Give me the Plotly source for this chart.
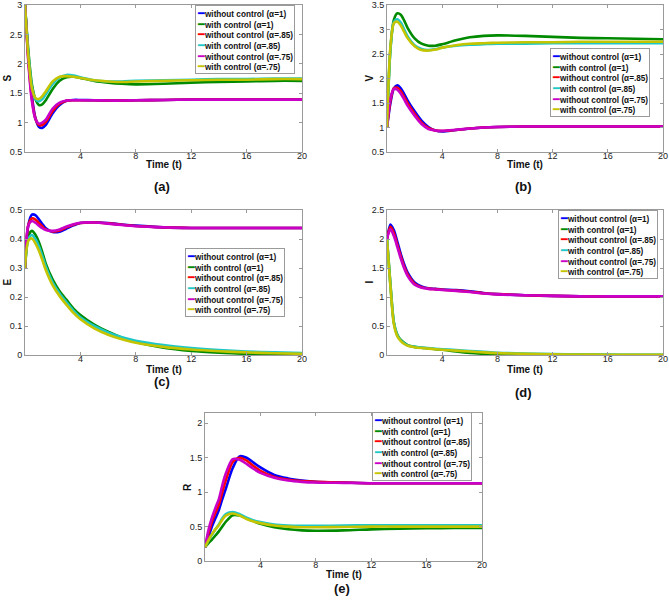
import plotly.graph_objects as go

W, H = 669, 606

t = [0, 0.25, 0.5, 0.75, 1, 1.25, 1.5, 2, 2.5, 3, 3.5, 4, 5, 6, 7, 8, 10, 12, 14, 16, 18, 20]

series_names = ["without control (α=1)", "with control (α=1)", "without control (α=.85)",
                "with control (α=.85)", "without control (α=.75)", "with control (α=.75)"]
colors = ["#0000FF", "#008A00", "#FF0000", "#1FC8C8", "#C800C8", "#C4C400"]

# S(t)
S_wo_1 = [3, 2.1, 1.45, 1.08, 0.93, 0.91, 0.96, 1.16, 1.30, 1.37, 1.385, 1.385, 1.38, 1.375, 1.375, 1.38, 1.385, 1.39, 1.39, 1.39, 1.39, 1.39]
S_w_1 = [3, 2.2, 1.65, 1.40, 1.30, 1.31, 1.38, 1.57, 1.71, 1.77, 1.78, 1.76, 1.71, 1.68, 1.66, 1.65, 1.66, 1.68, 1.69, 1.70, 1.71, 1.71]
S_wo_85 = [3, 2.05, 1.40, 1.07, 0.96, 0.96, 1.01, 1.20, 1.32, 1.37, 1.38, 1.38, 1.38, 1.375, 1.375, 1.38, 1.385, 1.39, 1.39, 1.39, 1.39, 1.39]
S_w_85 = [3, 2.15, 1.60, 1.40, 1.36, 1.40, 1.48, 1.66, 1.77, 1.81, 1.80, 1.77, 1.72, 1.70, 1.70, 1.71, 1.72, 1.73, 1.74, 1.74, 1.75, 1.75]
S_wo_75 = [3, 2.0, 1.36, 1.06, 0.98, 1.00, 1.05, 1.24, 1.34, 1.375, 1.38, 1.38, 1.38, 1.375, 1.375, 1.38, 1.385, 1.39, 1.39, 1.39, 1.39, 1.39]
S_w_75 = [3, 2.1, 1.58, 1.42, 1.40, 1.45, 1.53, 1.70, 1.78, 1.79, 1.78, 1.76, 1.72, 1.70, 1.69, 1.70, 1.71, 1.72, 1.73, 1.73, 1.74, 1.74]

# V(t)
V_wo_1 = [1, 1.5, 1.8, 1.86, 1.8, 1.68, 1.55, 1.33, 1.14, 1.01, 0.94, 0.92, 0.95, 0.98, 1.0, 1.01, 1.02, 1.02, 1.02, 1.02, 1.02, 1.02]
V_w_1 = [1, 2.6, 3.2, 3.33, 3.3, 3.18, 3.03, 2.82, 2.71, 2.67, 2.67, 2.70, 2.78, 2.84, 2.87, 2.88, 2.87, 2.85, 2.83, 2.82, 2.81, 2.80]
V_wo_85 = [1, 1.55, 1.8, 1.81, 1.74, 1.62, 1.49, 1.28, 1.10, 0.99, 0.94, 0.93, 0.95, 0.98, 1.0, 1.01, 1.02, 1.02, 1.02, 1.02, 1.02, 1.02]
V_w_85 = [1, 2.6, 3.15, 3.21, 3.14, 3.0, 2.86, 2.68, 2.60, 2.58, 2.60, 2.63, 2.67, 2.69, 2.70, 2.71, 2.71, 2.72, 2.72, 2.72, 2.72, 2.72]
V_wo_75 = [1, 1.6, 1.79, 1.77, 1.69, 1.57, 1.44, 1.24, 1.07, 0.97, 0.94, 0.935, 0.955, 0.98, 1.0, 1.01, 1.02, 1.02, 1.02, 1.02, 1.02, 1.02]
V_w_75 = [1, 2.65, 3.13, 3.16, 3.08, 2.95, 2.82, 2.66, 2.58, 2.57, 2.59, 2.63, 2.68, 2.71, 2.72, 2.73, 2.74, 2.74, 2.75, 2.75, 2.75, 2.75]

# E(t)
E_wo_1 = [0.3, 0.45, 0.484, 0.482, 0.468, 0.452, 0.437, 0.424, 0.425, 0.436, 0.447, 0.455, 0.458, 0.455, 0.45, 0.446, 0.44, 0.438, 0.438, 0.438, 0.438, 0.438]
E_w_1 = [0.3, 0.41, 0.428, 0.415, 0.39, 0.355, 0.315, 0.26, 0.22, 0.19, 0.16, 0.138, 0.105, 0.08, 0.06, 0.045, 0.025, 0.014, 0.008, 0.004, 0.003, 0.002]
E_wo_85 = [0.3, 0.45, 0.471, 0.467, 0.455, 0.443, 0.433, 0.426, 0.429, 0.44, 0.449, 0.455, 0.457, 0.454, 0.449, 0.445, 0.44, 0.438, 0.438, 0.438, 0.438, 0.438]
E_w_85 = [0.3, 0.40, 0.414, 0.40, 0.375, 0.342, 0.305, 0.25, 0.212, 0.182, 0.153, 0.13, 0.1, 0.078, 0.061, 0.049, 0.034, 0.024, 0.017, 0.012, 0.009, 0.007]
E_wo_75 = [0.3, 0.448, 0.462, 0.456, 0.446, 0.437, 0.431, 0.428, 0.433, 0.443, 0.451, 0.456, 0.457, 0.453, 0.448, 0.444, 0.44, 0.438, 0.438, 0.438, 0.438, 0.438]
E_w_75 = [0.3, 0.395, 0.402, 0.385, 0.36, 0.328, 0.293, 0.24, 0.203, 0.173, 0.145, 0.123, 0.092, 0.07, 0.054, 0.042, 0.028, 0.019, 0.013, 0.009, 0.006, 0.004]

# I(t)
I_wo_1 = [2, 2.25, 2.15, 1.95, 1.74, 1.56, 1.42, 1.25, 1.18, 1.15, 1.14, 1.13, 1.12, 1.10, 1.07, 1.05, 1.03, 1.02, 1.01, 1.01, 1.01, 1.01]
I_w_1 = [2, 1.22, 0.56, 0.35, 0.26, 0.21, 0.17, 0.14, 0.125, 0.115, 0.10, 0.09, 0.06, 0.035, 0.02, 0.01, 0.005, 0.003, 0.002, 0.001, 0.001, 0.001]
I_wo_85 = [2, 2.21, 2.10, 1.90, 1.70, 1.52, 1.39, 1.23, 1.17, 1.145, 1.135, 1.125, 1.11, 1.09, 1.065, 1.05, 1.03, 1.02, 1.01, 1.01, 1.01, 1.01]
I_w_85 = [2, 1.20, 0.56, 0.34, 0.25, 0.20, 0.165, 0.14, 0.127, 0.118, 0.108, 0.10, 0.085, 0.07, 0.055, 0.04, 0.025, 0.016, 0.01, 0.006, 0.004, 0.003]
I_wo_75 = [2, 2.17, 2.05, 1.86, 1.66, 1.49, 1.36, 1.21, 1.16, 1.14, 1.13, 1.12, 1.105, 1.085, 1.06, 1.045, 1.03, 1.02, 1.01, 1.01, 1.01, 1.01]
I_w_75 = [2, 1.18, 0.53, 0.32, 0.24, 0.19, 0.16, 0.135, 0.12, 0.11, 0.10, 0.09, 0.075, 0.06, 0.045, 0.033, 0.02, 0.012, 0.007, 0.005, 0.003, 0.002]

# R(t)
R_wo_1 = [0.2, 0.35, 0.5, 0.62, 0.74, 0.90, 1.05, 1.35, 1.52, 1.50, 1.43, 1.36, 1.25, 1.20, 1.17, 1.15, 1.14, 1.13, 1.13, 1.13, 1.13, 1.13]
R_w_1 = [0.2, 0.26, 0.31, 0.37, 0.43, 0.50, 0.57, 0.665, 0.66, 0.62, 0.58, 0.54, 0.49, 0.46, 0.445, 0.44, 0.445, 0.46, 0.47, 0.475, 0.48, 0.48]
R_wo_85 = [0.2, 0.40, 0.57, 0.70, 0.82, 1.0, 1.17, 1.44, 1.50, 1.46, 1.38, 1.31, 1.22, 1.18, 1.16, 1.15, 1.14, 1.13, 1.13, 1.13, 1.13, 1.13]
R_w_85 = [0.2, 0.30, 0.38, 0.46, 0.53, 0.62, 0.68, 0.71, 0.68, 0.63, 0.59, 0.565, 0.53, 0.515, 0.51, 0.51, 0.515, 0.52, 0.52, 0.52, 0.52, 0.52]
R_wo_75 = [0.2, 0.45, 0.63, 0.77, 0.90, 1.10, 1.27, 1.48, 1.47, 1.41, 1.34, 1.28, 1.21, 1.17, 1.15, 1.14, 1.135, 1.13, 1.13, 1.13, 1.13, 1.13]
R_w_75 = [0.2, 0.30, 0.39, 0.46, 0.52, 0.60, 0.66, 0.69, 0.66, 0.61, 0.575, 0.55, 0.515, 0.50, 0.49, 0.49, 0.495, 0.50, 0.50, 0.50, 0.50, 0.50]

panels = [
    dict(label="(a)", ylabel="S", data=[S_wo_1, S_w_1, S_wo_85, S_w_85, S_wo_75, S_w_75],
         yrange=[0.5, 3], yticks=[0.5, 1, 1.5, 2, 2.5, 3], yticktext=["0.5", "1", "1.5", "2", "2.5", "3"]),
    dict(label="(b)", ylabel="V", data=[V_wo_1, V_w_1, V_wo_85, V_w_85, V_wo_75, V_w_75],
         yrange=[0.5, 3.5], yticks=[0.5, 1, 1.5, 2, 2.5, 3, 3.5], yticktext=["0.5", "1", "1.5", "2", "2.5", "3", "3.5"]),
    dict(label="(c)", ylabel="E", data=[E_wo_1, E_w_1, E_wo_85, E_w_85, E_wo_75, E_w_75],
         yrange=[0, 0.5], yticks=[0, 0.1, 0.2, 0.3, 0.4, 0.5], yticktext=["0", "0.1", "0.2", "0.3", "0.4", "0.5"]),
    dict(label="(d)", ylabel="I", data=[I_wo_1, I_w_1, I_wo_85, I_w_85, I_wo_75, I_w_75],
         yrange=[0, 2.5], yticks=[0, 0.5, 1, 1.5, 2, 2.5], yticktext=["0", "0.5", "1", "1.5", "2", "2.5"]),
    dict(label="(e)", ylabel="R", data=[R_wo_1, R_w_1, R_wo_85, R_w_85, R_wo_75, R_w_75],
         yrange=[0, 2.15], yticks=[0, 0.5, 1, 1.5, 2], yticktext=["0", "0.5", "1", "1.5", "2"]),
]

xticks = [4, 8, 12, 16, 20]
xticktext = ["4", "8", "12", "16", "20"]

# layout geometry in pixels: (left, right, top, bottom) of each plot box
boxes = [(25, 302, 5, 152), (387, 663, 5, 152), (25, 302, 210, 355), (387, 663, 210, 355), (205, 482, 413, 561)]
legend_pos = [(195, 5), (550, 48), (185, 248), (558, 210), (372, 412)]
label_y = [186, 186, 381, 392, 588]
time_y = [164, 164, 369, 369, 574]

FONT = "Liberation Sans, Arial, sans-serif"

fig = go.Figure()
layout = dict(width=W, height=H, margin=dict(l=0, r=0, t=0, b=0, autoexpand=False),
              paper_bgcolor="white", plot_bgcolor="white", showlegend=False,
              font=dict(family=FONT, size=9, color="#222"))
annotations = []

for i, p in enumerate(panels):
    n = "" if i == 0 else str(i + 1)
    xa, ya = "x" + n, "y" + n
    L, R, T, B = boxes[i]
    for j in range(6):
        fig.add_trace(go.Scatter(x=t, y=p["data"][j], mode="lines", name=series_names[j],
                                 line=dict(color=colors[j], width=2.6, shape="spline", smoothing=0.8),
                                 xaxis=xa, yaxis=ya, hoverinfo="skip"))
    axcommon = dict(showline=True, mirror="ticks", linecolor="#9a9a9a", linewidth=1,
                    ticks="inside", ticklen=3, tickcolor="#9a9a9a", showgrid=False, zeroline=False,
                    automargin=False,
                    tickfont=dict(size=9, family=FONT, color="#222"))
    layout["xaxis" + n] = dict(axcommon, domain=[L / W, R / W], range=[0, 20],
                               tickvals=xticks, ticktext=xticktext, anchor=ya, ticklabelstandoff=-5)
    layout["yaxis" + n] = dict(axcommon, domain=[(H - B) / H, (H - T) / H], range=p["yrange"],
                               tickvals=p["yticks"], ticktext=p["yticktext"], anchor=xa, ticklabelstandoff=0)
    cx = (L + R) / 2
    annotations.append(dict(xref="paper", yref="paper", x=cx / W, y=(H - time_y[i]) / H,
                            text="<b>Time (t)</b>", showarrow=False, xanchor="center", yanchor="middle",
                            font=dict(size=10, family=FONT, color="#111")))
    annotations.append(dict(xref="paper", yref="paper", x=(cx - 2) / W, y=(H - label_y[i]) / H,
                            text="<b>" + p["label"] + "</b>", showarrow=False, xanchor="center", yanchor="middle",
                            font=dict(size=13, family=FONT, color="#111")))
    annotations.append(dict(xref="paper", yref="paper", x=(L - 18) / W, y=(H - (T + B) / 2) / H,
                            text="<b>" + p["ylabel"] + "</b>", showarrow=False, xanchor="center", yanchor="middle",
                            textangle=-90, font=dict(size=10, family=FONT, color="#111")))
    # legend box
    rows = []
    for j in range(6):
        rows.append('<span style="color:%s;font-size:11px">━</span><b>%s</b>' % (colors[j], series_names[j]))
    lx, ly = legend_pos[i]
    annotations.append(dict(xref="paper", yref="paper", x=lx / W, y=(H - ly) / H,
                            text="<br>".join(rows), showarrow=False, xanchor="left", yanchor="top",
                            align="left", bgcolor="white", bordercolor="#9a9a9a", borderwidth=1, borderpad=1,
                            font=dict(size=8.2, family=FONT, color="#111")))

layout["annotations"] = annotations
fig.update_layout(**layout)
fig.write_html("out.html", config={"displayModeBar": False},
               post_script="document.body.style.margin='0';")
